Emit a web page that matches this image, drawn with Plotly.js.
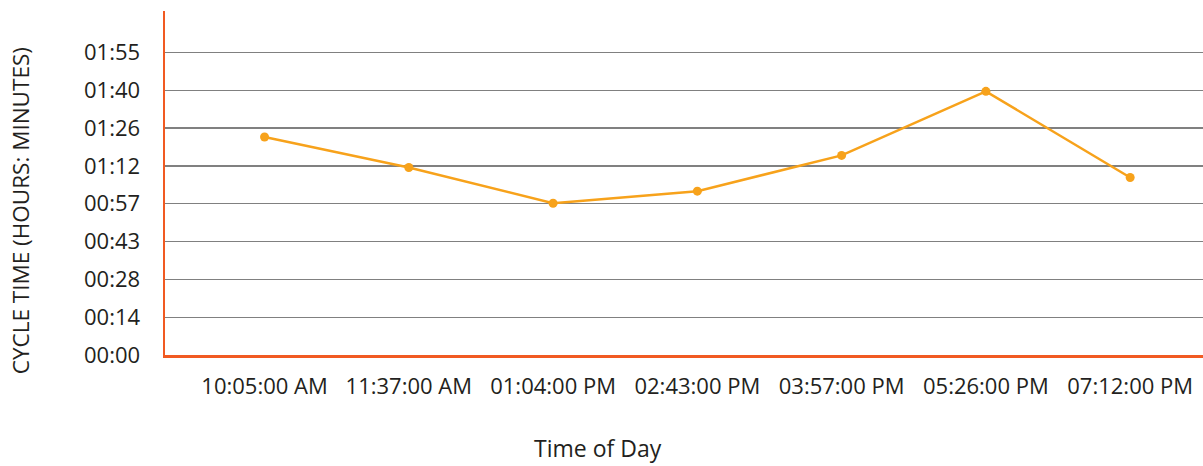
<!DOCTYPE html>
<html>
<head>
<meta charset="utf-8">
<script src="https://cdn.plot.ly/plotly-3.0.1.min.js"></script>
<style>html,body{margin:0;padding:0;background:#fff;}#chart{width:1203px;height:466px;}</style>
</head>
<body>
<div id="chart"></div>
<script>
// Data (cycle time in minutes)
var categories = ["10:05:00 AM", "11:37:00 AM", "01:04:00 PM", "02:43:00 PM", "03:57:00 PM", "05:26:00 PM", "07:12:00 PM"];
var cycleMinutes = [83.0, 71.4, 57.8, 62.4, 76.0, 100.4, 67.6];
var yTickVals = [0, 14.4, 28.8, 43.2, 57.6, 72.0, 86.4, 100.8, 115.2];
var yTickText = ["00:00", "00:14", "00:28", "00:43", "00:57", "01:12", "01:26", "01:40", "01:55"];

var FONT = "Open Sans, Noto Sans, sans-serif";
var TXT = "#231F20";

var trace = {
  x: categories,
  y: cycleMinutes,
  type: "scatter",
  mode: "lines+markers",
  line: {color: "#F7A21B", width: 2.5},
  marker: {color: "#F7A21B", size: 9},
  hoverinfo: "x+y"
};

var layout = {
  width: 1203,
  height: 466,
  margin: {l: 165, r: 0, t: 11, b: 111, pad: 0},
  paper_bgcolor: "#ffffff",
  plot_bgcolor: "#ffffff",
  showlegend: false,
  font: {family: FONT, color: TXT, size: 22},
  xaxis: {
    type: "category",
    range: [-0.69, 6.505],
    showgrid: false,
    zeroline: false,
    showline: true,
    linecolor: "#F15A22",
    linewidth: 2.5,
    ticks: "",
    ticklabelstandoff: 10,
    tickfont: {family: FONT, size: 22, color: TXT}
  },
  yaxis: {
    range: [0, 131],
    tickmode: "array",
    tickvals: yTickVals,
    ticktext: yTickText,
    showgrid: true,
    gridcolor: "#808080",
    gridwidth: 1.3,
    zeroline: false,
    showline: true,
    linecolor: "#F15A22",
    linewidth: 2.5,
    ticks: "",
    ticklabelstandoff: 18,
    tickfont: {family: FONT, size: 22, color: TXT}
  },
  annotations: [
    {
      text: "CYCLE TIME (HOURS: MINUTES)",
      xref: "paper", yref: "paper",
      x: -0.139, y: 0.42,
      xanchor: "center", yanchor: "middle",
      textangle: -90,
      showarrow: false,
      font: {family: FONT, size: 22.5, color: TXT}
    },
    {
      text: "Time of Day",
      xref: "paper", yref: "paper",
      x: 0.4171, y: -0.27,
      xanchor: "center", yanchor: "middle",
      showarrow: false,
      font: {family: FONT, size: 23, color: TXT}
    }
  ]
};

Plotly.newPlot("chart", [trace], layout, {displayModeBar: false, staticPlot: true});
</script>
</body>
</html>
